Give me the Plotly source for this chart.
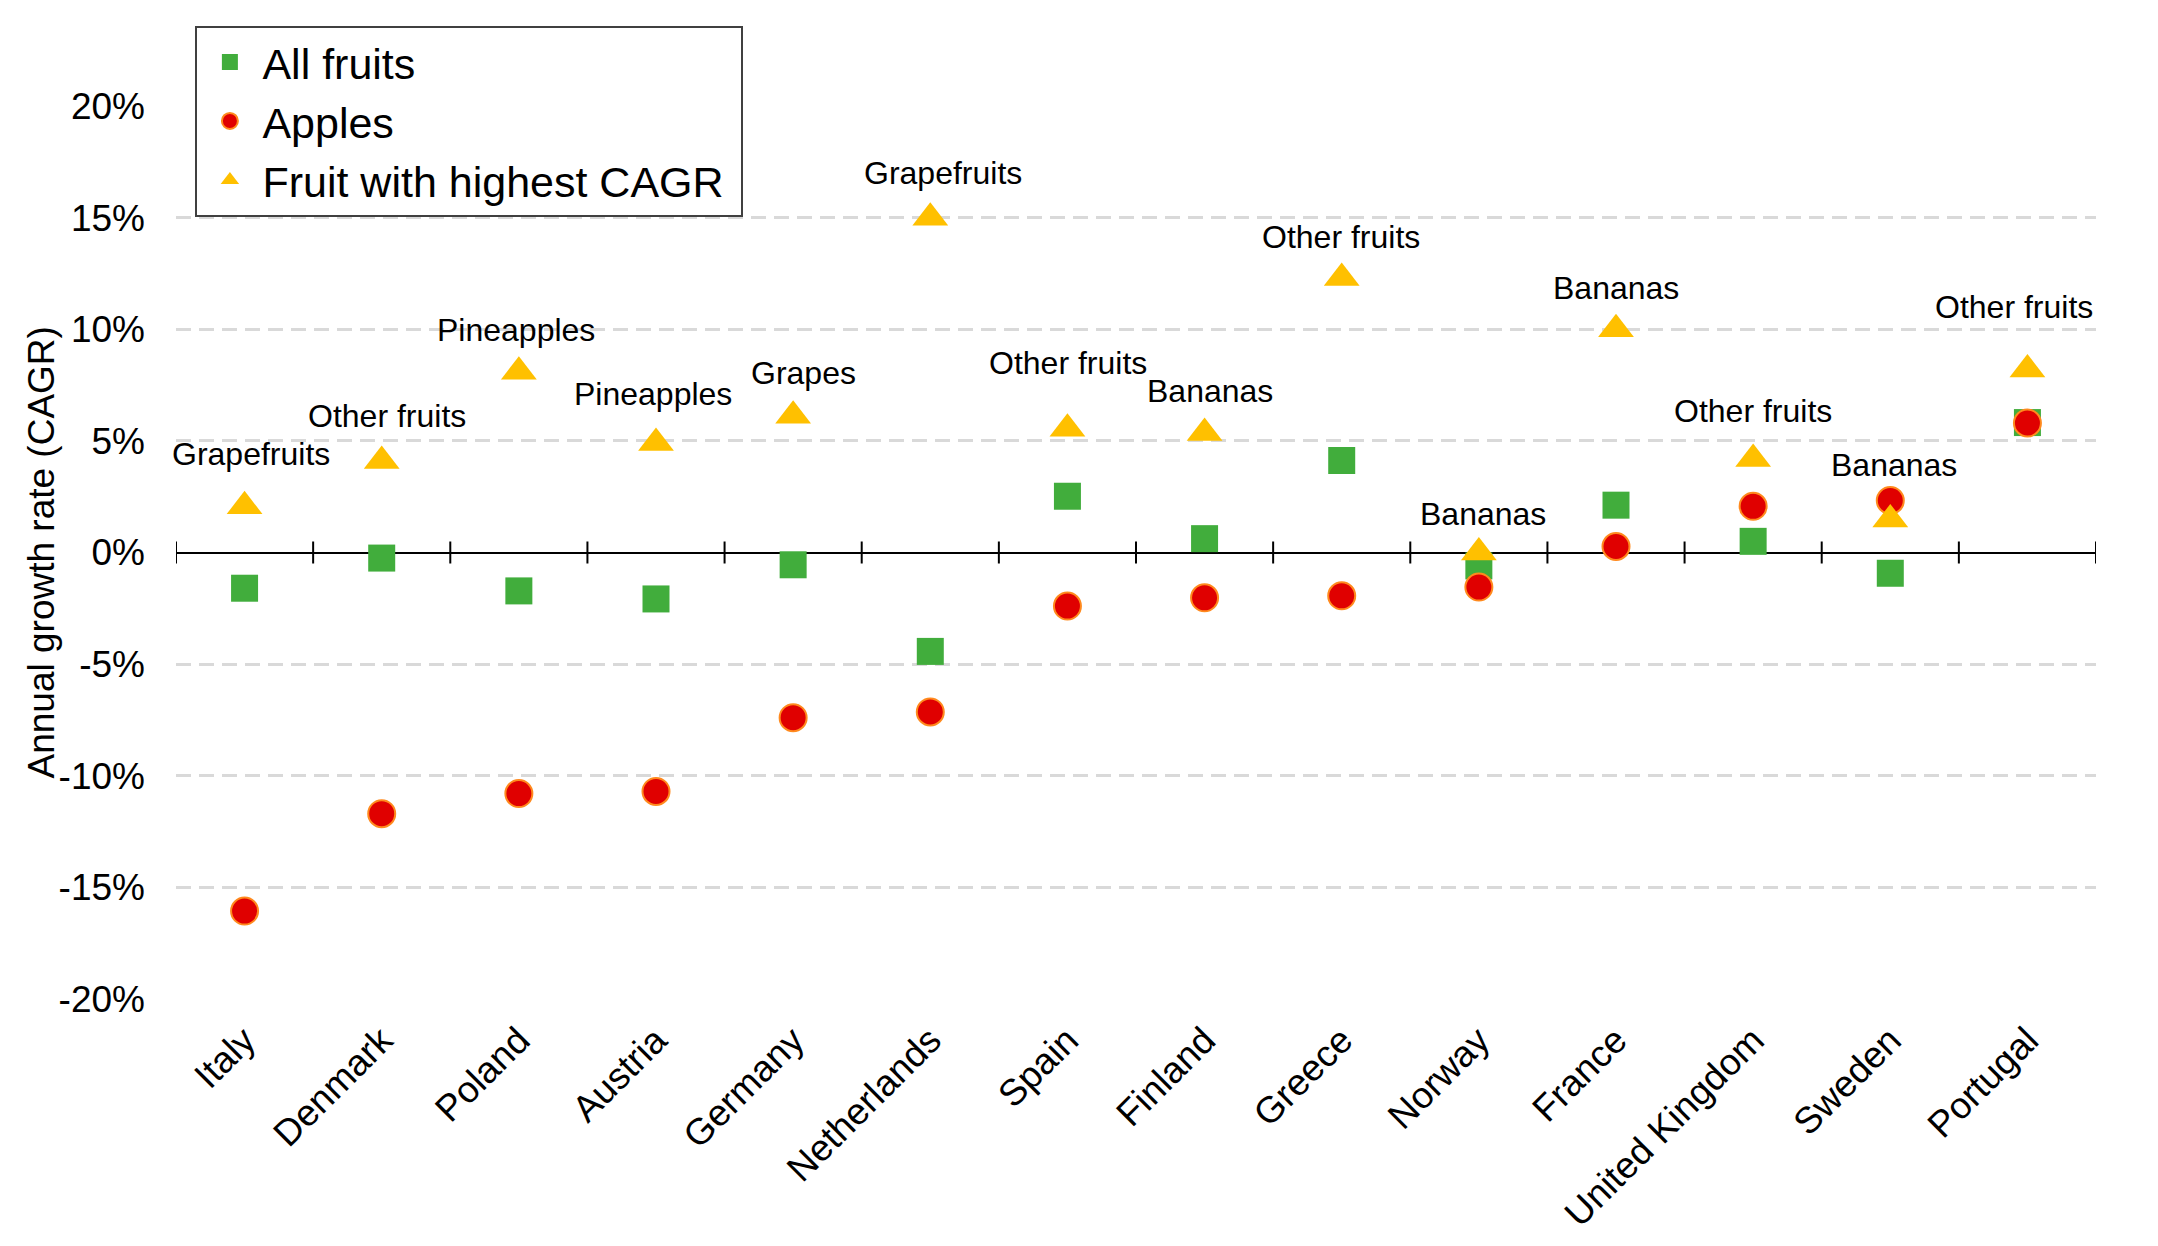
import plotly.graph_objects as go

countries = ["Italy", "Denmark", "Poland", "Austria", "Germany", "Netherlands", "Spain",
             "Finland", "Greece", "Norway", "France", "United Kingdom", "Sweden", "Portugal"]
all_fruits = [-1.6, -0.25, -1.72, -2.08, -0.55, -4.43, 2.52, 0.62, 4.12, -0.6, 2.12, 0.5, -0.93, 5.82]
apples = [-16.06, -11.7, -10.8, -10.7, -7.4, -7.14, -2.4, -2.03, -1.94, -1.55, 0.27, 2.07, 2.33, 5.8]
highest = [2.07, 4.1, 8.1, 4.9, 6.12, 15.0, 5.54, 5.35, 12.3, 0.0, 10.0, 4.19, 1.48, 8.2]
highest_fruit = ["Grapefruits", "Other fruits", "Pineapples", "Pineapples", "Grapes", "Grapefruits",
                 "Other fruits", "Bananas", "Other fruits", "Bananas", "Bananas", "Other fruits",
                 "Bananas", "Other fruits"]
y_ticks = [-20, -15, -10, -5, 0, 5, 10, 15, 20]
y_title = "Annual growth rate (CAGR)"

# label placement tweaks (pixels)
label_yshift = [52, 45, 42, 49, 43, 45, 66, 42, 41, 39, 41, 48, 54, 62]
label_xshift = [6, 5, -3, -3, 10, 13, 1, 5, -1, 4, 0, 0, 4, -13]

FONT = "Liberation Sans, Arial, sans-serif"
x = list(range(len(countries)))
to_frac = lambda v: [a / 100 for a in v]

fig = go.Figure()
fig.add_trace(go.Scatter(
    x=x, y=to_frac(all_fruits), mode="markers", name="All fruits",
    marker=dict(symbol="square", size=27, color="#41AD3C", line=dict(width=0))))
fig.add_trace(go.Scatter(
    x=x, y=to_frac(apples), mode="markers", name="Apples",
    marker=dict(symbol="circle", size=27, color="#E00000", line=dict(width=2, color="#FF8A1E"))))
fig.add_trace(go.Scatter(
    x=x, y=to_frac(highest), mode="markers", name="Fruit with highest CAGR\u00a0",
    marker=dict(symbol="triangle-up", size=31, color="#FFC000", line=dict(width=0))))

for i, (v, t) in enumerate(zip(highest, highest_fruit)):
    fig.add_annotation(x=i, y=v / 100, text=t, showarrow=False,
                       yshift=label_yshift[i], xshift=label_xshift[i],
                       font=dict(family=FONT, size=32, color="#000000"))

# y-axis title placed as a rotated annotation
fig.add_annotation(xref="paper", yref="paper", x=0, y=0.5, xanchor="center", yanchor="middle",
                   xshift=-135, text=y_title, textangle=-90, showarrow=False,
                   font=dict(family=FONT, size=37, color="#000000"))

# tick marks crossing the zero line at category boundaries
n = len(countries)
for k in range(n + 1):
    fig.add_shape(type="line", xref="x", yref="y", x0=k - 0.5, x1=k - 0.5,
                  ysizemode="pixel", yanchor=0, y0=-11, y1=11,
                  line=dict(color="#000000", width=2))

fig.update_layout(
    width=2150, height=1238,
    margin=dict(l=168, r=62, t=98, b=232),
    paper_bgcolor="white", plot_bgcolor="white",
    font=dict(family=FONT, color="#000000"),
    showlegend=True,
    legend=dict(x=0.0101, y=1.090, xanchor="left", yanchor="top",
                bgcolor="white", bordercolor="#404040", borderwidth=2,
                font=dict(family=FONT, size=43, color="#000000"),
                itemsizing="trace", itemwidth=55, tracegroupgap=0),
    xaxis=dict(range=[-0.5, n - 0.5], tickmode="array", tickvals=x, ticktext=countries,
               tickangle=-45, showgrid=False, showline=False, zeroline=False, ticks="",
               tickfont=dict(family=FONT, size=37, color="#000000"), ticklabelstandoff=11),
    yaxis=dict(range=[-0.2, 0.2], tickmode="array", tickvals=[t / 100 for t in y_ticks],
               ticktext=[f"{t}%" for t in y_ticks],
               showgrid=True, gridcolor="#D9D9D9", gridwidth=2.5, griddash="15px,8px",
               zeroline=True, zerolinecolor="#000000", zerolinewidth=2,
               showline=False, ticks="", ticklabelstandoff=30,
               tickfont=dict(family=FONT, size=37, color="#000000")),
)

fig.write_html("out.html")
